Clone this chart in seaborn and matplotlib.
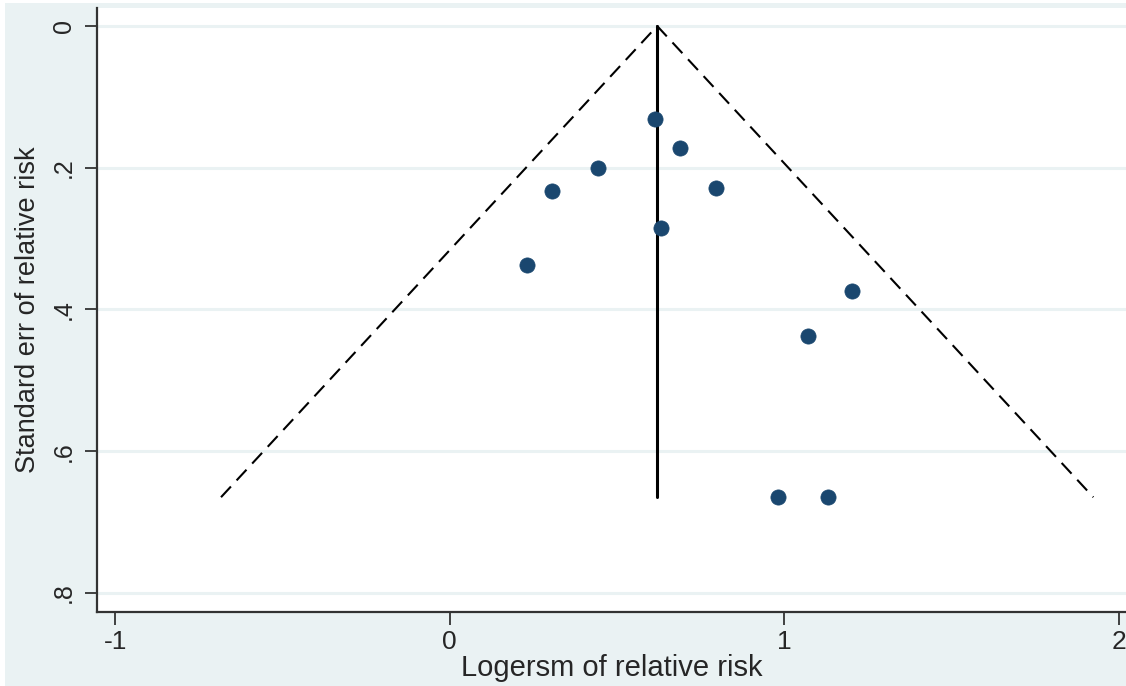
import numpy as np
import pandas as pd
import matplotlib
matplotlib.use("Agg")
import matplotlib.pyplot as plt
from matplotlib.patches import Rectangle
import seaborn as sns

# Data
log_rr = [0.613, 0.688, 0.443, 0.306, 0.796, 0.631, 0.231, 1.202, 1.070, 0.981, 1.130]
se_rr = [0.131, 0.172, 0.200, 0.233, 0.229, 0.285, 0.337, 0.374, 0.437, 0.665, 0.665]
pooled = 0.62
se_max = 0.665
x_ticks = [-1, 0, 1, 2]
x_tick_labels = ["-1", "0", "1", "2"]
y_ticks = [0, 0.2, 0.4, 0.6, 0.8]
y_tick_labels = ["0", ".2", ".4", ".6", ".8"]

bg = "#EAF2F3"
navy = "#1A476F"

sns.set_theme(style="white")
plt.rcParams["font.family"] = ["Liberation Sans", "DejaVu Sans"]

W, H = 1126, 686
fig = plt.figure(figsize=(W / 100, H / 100), dpi=100, facecolor="white")
# outer light background, leaving a thin white border at left/top
fig.patches.append(Rectangle((5 / W, 0), 1 - 5 / W, 1 - 3 / H, transform=fig.transFigure,
                             facecolor=bg, edgecolor="none", zorder=-10))

ax = fig.add_axes([97 / W, (H - 612) / H, 1 - 97 / W, (612 - 8) / H])
ax.set_facecolor("white")

# gridlines
for yt in y_ticks:
    ax.axhline(yt, color=bg, lw=2.2, zorder=0)

# funnel (pseudo 95% CI)
funnel = pd.DataFrame({
    "x": [pooled - 1.96 * se_max, pooled, pooled + 1.96 * se_max],
    "y": [se_max, 0, se_max],
})
ax.plot(funnel["x"], funnel["y"], color="black", lw=1.5, ls=(0, (7, 4)), zorder=2)
ax.plot([pooled, pooled], [0, se_max], color="black", lw=2.2, zorder=2)

df = pd.DataFrame({"logrr": log_rr, "se": se_rr})
sns.scatterplot(data=df, x="logrr", y="se", ax=ax, color=navy, s=120,
                edgecolor=navy, linewidth=0.5, zorder=3)

ax.set_xlim(-1.054, 2.021)
ax.set_ylim(0.827, -0.0254)

ax.set_xticks(x_ticks)
ax.set_xticklabels(x_tick_labels, fontsize=19)
ax.set_yticks(y_ticks)
ax.set_yticklabels(y_tick_labels, fontsize=18, rotation=90, va="center")

ax.tick_params(axis="both", which="both", direction="out", length=9, width=1.3,
               color="#333333", left=True, bottom=True, pad=4)
ax.tick_params(axis="y", pad=6)

for s in ["top", "right"]:
    ax.spines[s].set_visible(False)
for s in ["left", "bottom"]:
    ax.spines[s].set_color("#333333")
    ax.spines[s].set_linewidth(1.6)

ax.set_xlabel("Logersm of relative risk", fontsize=21, labelpad=0)
ax.set_ylabel("Standard err of relative risk", fontsize=19.5, labelpad=8)

fig.savefig("out.png", dpi=100, facecolor="white")
